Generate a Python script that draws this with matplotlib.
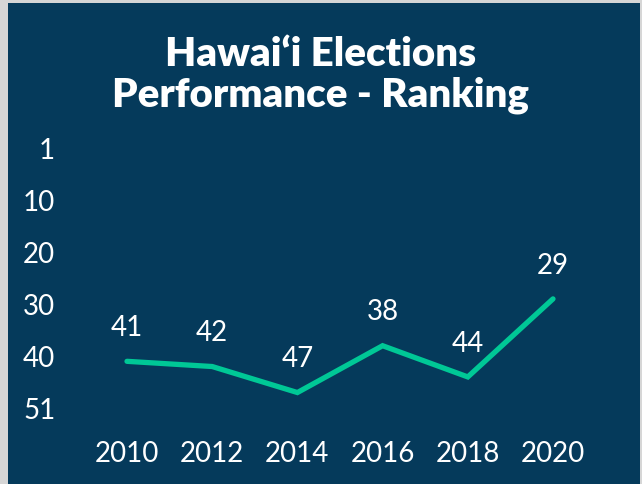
import matplotlib
matplotlib.use("Agg")
import matplotlib.pyplot as plt
from matplotlib.patches import Rectangle

# Hawai'i national ranking by election year (lower is better)
years = ["2010", "2012", "2014", "2016", "2018", "2020"]
ranking = [41, 42, 47, 38, 44, 29]
rank_ticks = [0, 10, 20, 30, 40, 50]
rank_tick_labels = ["1", "10", "20", "30", "40", "51"]

NAVY = "#053a5b"
TEAL = "#00c896"

plt.rcParams["font.family"] = ["Lato", "DejaVu Sans"]

fig = plt.figure(figsize=(6.42, 4.84), dpi=100)
fig.patch.set_facecolor("#d6d6d6")
fig.add_artist(Rectangle((8 / 642, 0), 632 / 642, 481 / 484,
                         transform=fig.transFigure, facecolor=NAVY,
                         edgecolor="none", zorder=0))

ax = fig.add_axes([84.4 / 642, 54 / 484, 511.2 / 642, 300 / 484])
ax.set_facecolor("none")

x = list(range(len(years)))
ax.plot(x, ranking, color=TEAL, linewidth=3.8, solid_capstyle="round",
        solid_joinstyle="miter")

for xi, r in zip(x, ranking):
    ax.annotate(str(r), (xi, r), xytext=(0, 24), textcoords="offset points",
                ha="center", va="center", color="white", fontsize=20)

ax.set_xlim(-0.5, 5.5)
ax.set_ylim(54.2, -3.46)
ax.set_xticks(x, years)
ax.set_yticks(rank_ticks, rank_tick_labels)
ax.tick_params(length=0, colors="white", labelsize=20)
ax.tick_params(axis="y", pad=21)
ax.tick_params(axis="x", pad=8)
for s in ax.spines.values():
    s.set_visible(False)

fig.text(0.5, 1 - 75 / 484, "Hawai\u2018i Elections\nPerformance - Ranking",
         ha="center", va="center", color="white", fontsize=29,
         fontweight="heavy", linespacing=1.15)

fig.savefig("out.png", dpi=100, facecolor=fig.get_facecolor())
